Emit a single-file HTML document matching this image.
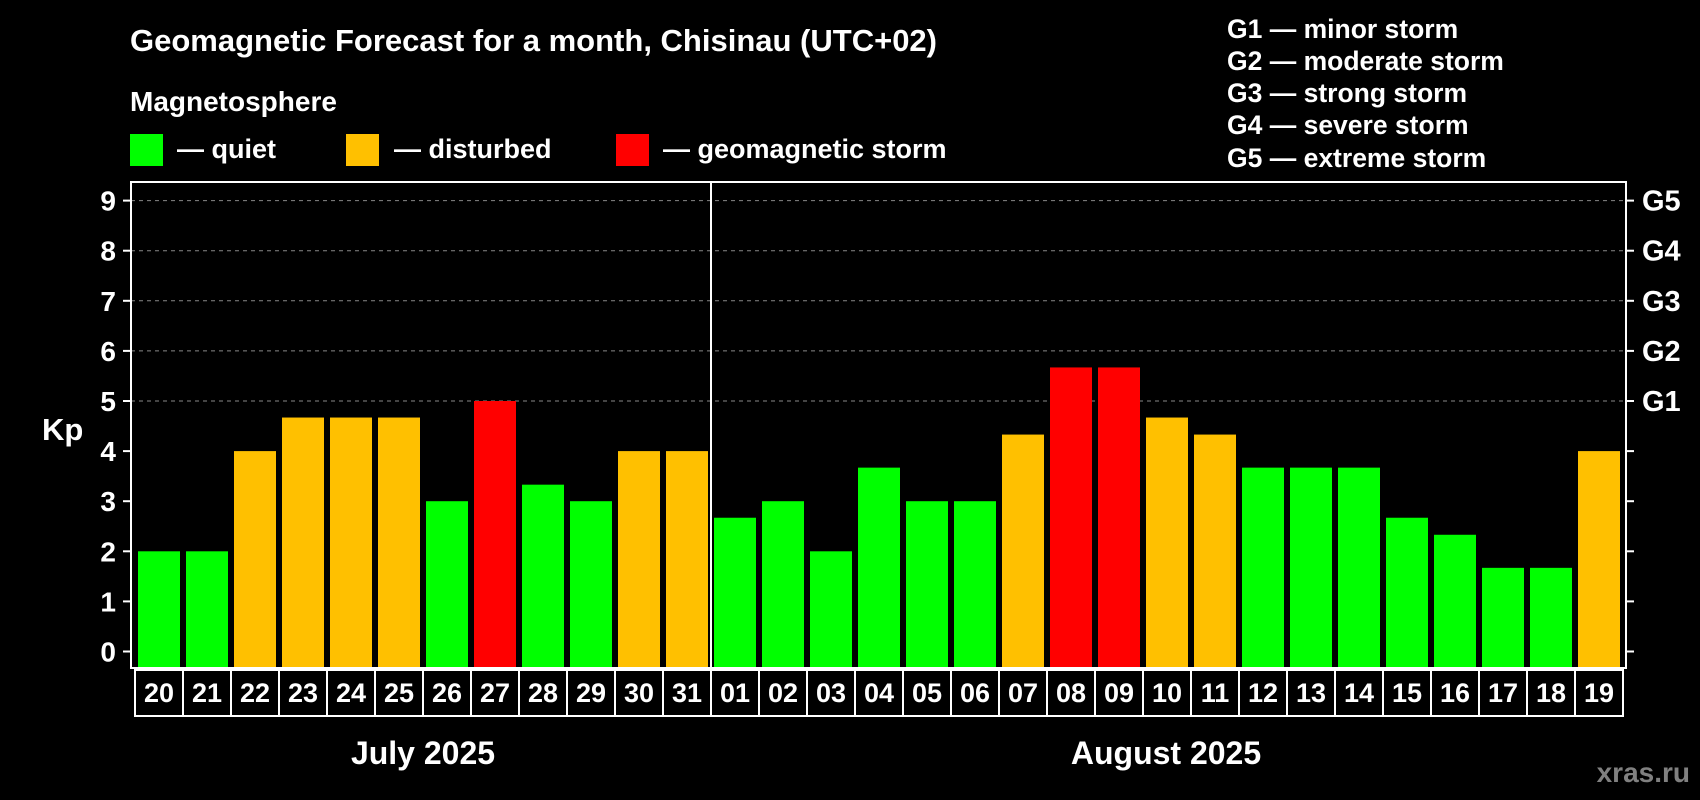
<!DOCTYPE html>
<html><head><meta charset="utf-8"><style>
html,body{margin:0;padding:0;background:#000;width:1700px;height:800px;overflow:hidden}
svg{display:block;font-family:"Liberation Sans",Arial,sans-serif;font-weight:bold}
</style></head><body>
<svg id="chart" width="1700" height="800" viewBox="0 0 1700 800">
<rect width="1700" height="800" fill="#000"/>
<text x="130" y="51" fill="#fff" font-size="31">Geomagnetic Forecast for a month, Chisinau (UTC+02)</text>
<text x="130" y="111" fill="#fff" font-size="28">Magnetosphere</text>
<g><rect x="130" y="134" width="33" height="32" fill="#00ff00"/><text x="177" y="158" fill="#fff" font-size="27">— quiet</text></g>
<g><rect x="346" y="134" width="33" height="32" fill="#ffc000"/><text x="394" y="158" fill="#fff" font-size="27">— disturbed</text></g>
<g><rect x="616" y="134" width="33" height="32" fill="#ff0000"/><text x="663" y="158" fill="#fff" font-size="27">— geomagnetic storm</text></g>
<g fill="#fff" font-size="26.5">
<text x="1227" y="38">G1 — minor storm</text>
<text x="1227" y="70">G2 — moderate storm</text>
<text x="1227" y="102">G3 — strong storm</text>
<text x="1227" y="134">G4 — severe storm</text>
<text x="1227" y="167">G5 — extreme storm</text>
</g>
<text x="42" y="440" fill="#fff" font-size="31">Kp</text>
<g id="grid"></g><g id="bars"></g><g id="axes"></g>
<text x="423" y="764" fill="#fff" font-size="32" text-anchor="middle">July 2025</text>
<text x="1166" y="764" fill="#fff" font-size="32" text-anchor="middle">August 2025</text>
<text x="1690" y="782" fill="#808080" font-size="28" text-anchor="end">xras.ru</text>
</svg>
<script>
const days = ["20","21","22","23","24","25","26","27","28","29","30","31","01","02","03","04","05","06","07","08","09","10","11","12","13","14","15","16","17","18","19"];
const kpValues = [2,2,4,4.67,4.67,4.67,3,5,3.33,3,4,4,2.67,3,2,3.67,3,3,4.33,5.67,5.67,4.67,4.33,3.67,3.67,3.67,2.67,2.33,1.67,1.67,4];
const yTicks = [0,1,2,3,4,5,6,7,8,9];
const gLabels = ["G1","G2","G3","G4","G5"];
const gLevels = [5,6,7,8,9];
const monthBreakIndex = 12;

const NS="http://www.w3.org/2000/svg";
const L=131,R=1626,T=182,B=668,Y0=651.5,UNIT=50.1,X0=135,STEP=48;
const y=v=>Y0-v*UNIT;
const x=i=>X0+i*STEP;
function mk(tag,attrs,parent){const e=document.createElementNS(NS,tag);for(const k in attrs)e.setAttribute(k,attrs[k]);parent.appendChild(e);return e;}
const grid=document.getElementById('grid'),bars=document.getElementById('bars'),axes=document.getElementById('axes');
gLevels.forEach(v=>{
  const l=mk('line',{x1:L,x2:R,y1:y(v),y2:y(v),stroke:'#888','stroke-dasharray':'4,4','stroke-width':1},grid);
  
  
});
kpValues.forEach((v,i)=>{
  const c=v>=5?'#ff0000':(v>=4?'#ffc000':'#00ff00');
  const r=mk('rect',{x:x(i)+3,y:y(v),width:42,height:B-y(v),fill:c},bars);
  
  
});
const fr=mk('rect',{x:L,y:T,width:R-L,height:B-T,fill:'none',stroke:'#fff','stroke-width':2},axes);


const mx=x(monthBreakIndex);
const ml=mk('line',{x1:mx,x2:mx,y1:T,y2:B,stroke:'#fff','stroke-width':2},axes);


yTicks.forEach(v=>{
  mk('line',{x1:L-8,x2:L,y1:y(v),y2:y(v),stroke:'#fff','stroke-width':2},axes);
  mk('line',{x1:R,x2:R+8,y1:y(v),y2:y(v),stroke:'#fff','stroke-width':2},axes);
  const t=mk('text',{x:116,y:y(v)+10,fill:'#fff','font-size':28,'text-anchor':'end'},axes);
  t.textContent=v;
  
  
});
gLabels.forEach((g,i)=>{
  const t=mk('text',{x:1642,y:y(gLevels[i])+10,fill:'#fff','font-size':29},axes);
  t.textContent=g;
  
  
});
days.forEach((d,i)=>{
  const b=mk('rect',{x:x(i),y:670,width:STEP,height:46,fill:'none',stroke:'#fff','stroke-width':2},axes);
  
  
  const t=mk('text',{x:x(i)+STEP/2,y:702,fill:'#fff','font-size':27,'text-anchor':'middle'},axes);
  t.textContent=d;
  
  
});
</script>
</body></html>
